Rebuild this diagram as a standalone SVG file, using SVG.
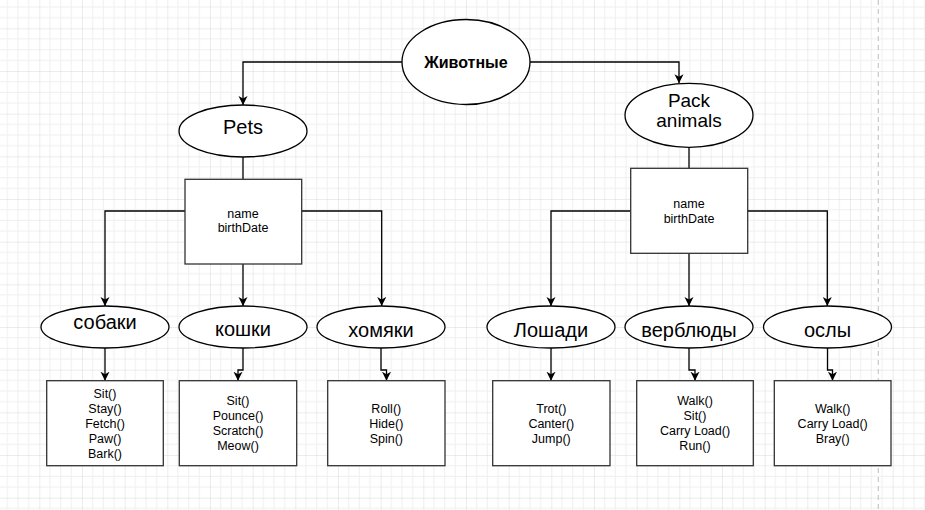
<svg xmlns="http://www.w3.org/2000/svg" width="925" height="510" viewBox="0 0 925 510">
<style>
.el{fill:#fff;stroke:#000;stroke-width:1.3}
.bx{fill:#fff;stroke:#333;stroke-width:1.3}
.cn{fill:none;stroke:#000;stroke-width:1.3}
.lg{font-family:"Liberation Sans",Arial,sans-serif;font-size:20px;fill:#000;text-anchor:middle}
.pk{font-family:"Liberation Sans",Arial,sans-serif;font-size:19px;fill:#000;text-anchor:middle}
.sm{font-family:"Liberation Sans",Arial,sans-serif;font-size:12.5px;fill:#000;text-anchor:middle}
.tt{font-family:"Liberation Sans",Arial,sans-serif;font-size:16px;font-weight:bold;fill:#000;text-anchor:middle}
</style>
<defs>
<pattern id="grid" patternUnits="userSpaceOnUse" x="39.33" y="28.33" width="42.667" height="42.667">
<path d="M10.667,0V42.667M21.333,0V42.667M32,0V42.667M0,10.667H42.667M0,21.333H42.667M0,32H42.667" stroke="#efefef" stroke-width="1" fill="none"/>
<path d="M0,0V42.667M0,0H42.667" stroke="#dadada" stroke-width="1" fill="none"/>
</pattern>
<marker id="arr" markerUnits="userSpaceOnUse" markerWidth="12" markerHeight="12" refX="9" refY="4.5" orient="auto">
<path d="M0,0 L9,4.5 L0,9 L2.5,4.5 Z" fill="#000"/>
</marker>
</defs>
<rect width="925" height="510" fill="#fff"/>
<rect width="925" height="510" fill="url(#grid)"/>
<line x1="878.3" y1="0" x2="878.3" y2="510" stroke="#c8c8c8" stroke-width="1.2" stroke-dasharray="5,4"/>

<g id="connectors">
<path class="cn" d="M402.3,62 H243 V105" marker-end="url(#arr)"/>
<path class="cn" d="M530,62 H679 V83.3" marker-end="url(#arr)"/>
<path class="cn" d="M243,157 V179.3"/>
<path class="cn" d="M689,147.3 V168.3"/>
<path class="cn" d="M185,211 H105 V306" marker-end="url(#arr)"/>
<path class="cn" d="M243,264 V306" marker-end="url(#arr)"/>
<path class="cn" d="M301.7,211 H381.7 V306" marker-end="url(#arr)"/>
<path class="cn" d="M630.7,211 H551 V306" marker-end="url(#arr)"/>
<path class="cn" d="M689,253.3 V306" marker-end="url(#arr)"/>
<path class="cn" d="M747.7,211 H827.3 V306" marker-end="url(#arr)"/>
<path class="cn" d="M105,348 V380.7" marker-end="url(#arr)"/>
<path class="cn" d="M243,348 V370 H238 V380.7" marker-end="url(#arr)"/>
<path class="cn" d="M381,348 V370 H386.5 V380.7" marker-end="url(#arr)"/>
<path class="cn" d="M551,348 V380.7" marker-end="url(#arr)"/>
<path class="cn" d="M689,348 V370 H695 V380.7" marker-end="url(#arr)"/>
<path class="cn" d="M827.5,348 V370 H832.5 V380.7" marker-end="url(#arr)"/>
</g>

<g id="animals">
<ellipse class="el" cx="466" cy="62" rx="64" ry="42.5"/>
<text class="tt" x="466" y="68.3">Животные</text>
</g>
<g id="pets">
<ellipse class="el" cx="243" cy="131" rx="64" ry="26"/>
<text class="lg" x="243" y="133.5">Pets</text>
</g>
<g id="pack">
<ellipse class="el" cx="689" cy="115.3" rx="64" ry="32"/>
<text class="pk" x="689" y="106.8">Pack</text>
<text class="pk" x="689" y="127">animals</text>
</g>
<g id="pets-attrs">
<rect class="bx" x="185" y="179.3" width="116.7" height="84.7"/>
<text class="sm" x="243" y="217.7">name</text>
<text class="sm" x="243" y="232.3">birthDate</text>
</g>
<g id="pack-attrs">
<rect class="bx" x="630.7" y="168.3" width="117" height="85"/>
<text class="sm" x="689" y="208.3">name</text>
<text class="sm" x="689" y="222.7">birthDate</text>
</g>

<g id="dogs">
<ellipse class="el" cx="105" cy="327" rx="64" ry="21"/>
<text class="lg" x="105" y="329.3">собаки</text>
</g>
<g id="cats">
<ellipse class="el" cx="243" cy="327" rx="64" ry="21"/>
<text class="lg" x="243" y="336">кошки</text>
</g>
<g id="hamsters">
<ellipse class="el" cx="381" cy="327" rx="64" ry="21"/>
<text class="lg" x="381" y="336.5">хомяки</text>
</g>
<g id="horses">
<ellipse class="el" cx="551" cy="327" rx="64" ry="21"/>
<text class="lg" x="551" y="336.5">Лошади</text>
</g>
<g id="camels">
<ellipse class="el" cx="689" cy="327" rx="64" ry="21"/>
<text class="lg" x="689" y="336.5">верблюды</text>
</g>
<g id="donkeys">
<ellipse class="el" cx="827.5" cy="327" rx="64" ry="21"/>
<text class="lg" x="827.5" y="336.5">ослы</text>
</g>

<g id="dogs-methods">
<rect class="bx" x="46.7" y="380.7" width="116.6" height="85"/>
<text class="sm" x="105" y="398">Sit()</text>
<text class="sm" x="105" y="413">Stay()</text>
<text class="sm" x="105" y="428">Fetch()</text>
<text class="sm" x="105" y="443">Paw()</text>
<text class="sm" x="105" y="458">Bark()</text>
</g>
<g id="cats-methods">
<rect class="bx" x="179.3" y="380.7" width="117.4" height="85"/>
<text class="sm" x="238" y="405">Sit()</text>
<text class="sm" x="238" y="420">Pounce()</text>
<text class="sm" x="238" y="435">Scratch()</text>
<text class="sm" x="238" y="450">Meow()</text>
</g>
<g id="hamsters-methods">
<rect class="bx" x="327.7" y="380.7" width="117.3" height="85"/>
<text class="sm" x="386.3" y="413">Roll()</text>
<text class="sm" x="386.3" y="428">Hide()</text>
<text class="sm" x="386.3" y="443">Spin()</text>
</g>
<g id="horses-methods">
<rect class="bx" x="492.7" y="380.7" width="117.3" height="85"/>
<text class="sm" x="551.3" y="413">Trot()</text>
<text class="sm" x="551.3" y="428">Canter()</text>
<text class="sm" x="551.3" y="443">Jump()</text>
</g>
<g id="camels-methods">
<rect class="bx" x="636.7" y="380.7" width="116.6" height="85"/>
<text class="sm" x="695" y="405">Walk()</text>
<text class="sm" x="695" y="420">Sit()</text>
<text class="sm" x="695" y="435">Carry Load()</text>
<text class="sm" x="695" y="450">Run()</text>
</g>
<g id="donkeys-methods">
<rect class="bx" x="774.3" y="380.7" width="116.7" height="85"/>
<text class="sm" x="832.7" y="413">Walk()</text>
<text class="sm" x="832.7" y="428">Carry Load()</text>
<text class="sm" x="832.7" y="443">Bray()</text>
</g>
</svg>
